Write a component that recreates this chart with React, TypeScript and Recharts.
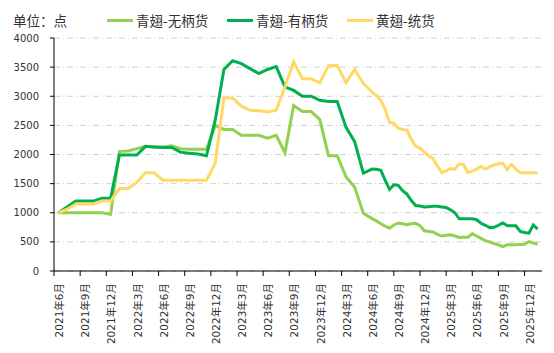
import { LineChart, Line, XAxis, YAxis, CartesianGrid } from 'recharts';

// x position in months since 2021-06 (monthly points at mid-month, then half-monthly)
const monthPos = [
  0.5, 1.5, 2.5, 3.5, 4.5, 5.5, 6.5, 7.5, 8.5, 9.5, 10.5, 11.5, 12.5, 13.5, 14.5, 15.5,
  16.5, 17.5, 18.5, 19.5, 20.5, 21.5, 22.5, 23.5, 24.5, 25.5, 26.5, 27.5, 28.5, 29.5,
  30.5, 31.5, 32.5, 33.5, 34.5, 35.5, 36.5,
  37, 37.5, 38, 38.5, 39, 39.5, 40, 40.5, 41, 41.5, 42, 42.5, 43, 43.5, 44, 44.5, 45,
  45.5, 46, 46.5, 47, 47.5, 48, 48.5, 49, 49.5, 50, 50.5, 51, 51.5, 52, 52.5, 53, 53.5,
  54, 54.5, 55, 55.5,
];

// 青翅-无柄货
const wingless = [
  1000, 1000, 1000, 1000, 1000, 1000, 975, 2050, 2060, 2100, 2140, 2130, 2130, 2150, 2100, 2090,
  2090, 2090, 2500, 2430, 2430, 2330, 2330, 2330, 2280, 2330, 2030, 2840, 2740, 2740,
  2600, 1980, 1980, 1620, 1440, 990, 900,
  860, 810, 770, 735, 790, 825, 810, 795, 810, 820, 780, 690, 680, 670, 630, 600, 615,
  620, 600, 575, 580, 580, 640, 600, 560, 520, 500, 470, 450, 420, 450, 450, 450, 455,
  460, 505, 480, 460,
];

// 青翅-有柄货
const withStem = [
  1000, 1100, 1200, 1200, 1200, 1250, 1250, 1990, 1990, 1990, 2140, 2130, 2120, 2120, 2040, 2020,
  2010, 1980, 2590, 3460, 3610, 3560, 3475, 3390, 3460, 3510, 3160, 3100, 3000, 3000,
  2930, 2910, 2910, 2470, 2220, 1680, 1750,
  1745, 1730, 1560, 1400, 1480, 1470, 1380, 1320, 1210, 1125, 1115, 1100, 1105, 1110, 1110, 1100, 1090,
  1050, 1000, 895, 895, 895, 895, 880, 820, 785, 745, 750, 785, 825, 780, 775, 775, 680,
  660, 650, 790, 720,
];

// 黄翅-统货
const yellowWing = [
  1000, 1060, 1150, 1150, 1150, 1200, 1200, 1415, 1415, 1520, 1685, 1685, 1560, 1560, 1560, 1560,
  1560, 1560, 1850, 2970, 2970, 2830, 2760, 2750, 2730, 2760, 3160, 3590, 3300, 3300,
  3230, 3530, 3530, 3230, 3460, 3220, 3070,
  3010, 2930, 2780, 2550, 2540, 2450, 2430, 2420, 2260, 2140, 2110, 2040, 1980, 1930, 1800, 1690, 1720,
  1760, 1750, 1840, 1825, 1690, 1715, 1750, 1795, 1750, 1790, 1820, 1840, 1850, 1740, 1830, 1750, 1685,
  1685, 1685, 1685, 1685,
];

const tickMonths = [0, 3, 6, 9, 12, 15, 18, 21, 24, 27, 30, 33, 36, 39, 42, 45, 48, 51, 54];
const tickLabels = [
  '2021年6月', '2021年9月', '2021年12月', '2022年3月', '2022年6月', '2022年9月', '2022年12月',
  '2023年3月', '2023年6月', '2023年9月', '2023年12月', '2024年3月', '2024年6月', '2024年9月',
  '2024年12月', '2025年3月', '2025年6月', '2025年9月', '2025年12月',
];
const yTicks = [0, 500, 1000, 1500, 2000, 2500, 3000, 3500, 4000];

const seriesNames = ['青翅-无柄货', '青翅-有柄货', '黄翅-统货'];
const colors = ['#92D050', '#00B050', '#FFD966'];

const data = monthPos.map((t, i) => ({
  t,
  a: wingless[i],
  b: withStem[i],
  c: yellowWing[i],
}));

const axisFont = '"DejaVu Sans", "Noto Sans CJK SC", sans-serif';
const cjkFont = '"Noto Sans CJK SC", "Noto Sans", sans-serif';

const XTick = (props: any) => {
  const { x, y, payload } = props;
  const label = tickLabels[tickMonths.indexOf(payload.value)];
  return (
    <text
      x={0}
      y={0}
      dy="0.35em"
      transform={`translate(${x + 5.5},${y}) rotate(-90)`}
      textAnchor="end"
      fontSize={10.5}
      fontFamily={axisFont}
      fill="#333"
    >
      {label}
    </text>
  );
};

const App = () => {
  return (
    <div style={{ position: 'absolute', left: 0, top: 0, width: 554, height: 353, background: '#fff' }}>
      <div
        style={{
          position: 'absolute', left: 13, top: 11, fontSize: 13.5, fontFamily: cjkFont,
          color: '#333', lineHeight: '18px', whiteSpace: 'nowrap',
        }}
      >
        单位：点
      </div>
      {seriesNames.map((name, i) => (
        <div
          key={name}
          style={{
            position: 'absolute', left: 107 + i * 120, top: 11, height: 18, display: 'flex',
            alignItems: 'center', fontSize: 13.5, fontFamily: cjkFont, color: '#333', whiteSpace: 'nowrap',
          }}
        >
          <span style={{ display: 'inline-block', width: 26, height: 3, background: colors[i], marginRight: 3 }} />
          {name}
        </div>
      ))}
      <LineChart width={554} height={353} data={data} margin={{ top: 38, right: 12, bottom: 0, left: 0 }}>
        <CartesianGrid vertical={false} stroke="#D0D0D0" strokeDasharray="6 3 1 3" />
        <XAxis
          dataKey="t"
          type="number"
          domain={[0, 56]}
          ticks={tickMonths}
          interval={0}
          height={82}
          tickSize={5}
          tickMargin={7}
          axisLine={{ stroke: '#000' }}
          tickLine={{ stroke: '#000' }}
          tick={<XTick />}
        />
        <YAxis
          type="number"
          domain={[0, 4000]}
          ticks={yTicks}
          interval={0}
          width={54}
          tickSize={4}
          tickMargin={11}
          axisLine={{ stroke: '#000' }}
          tickLine={{ stroke: '#000' }}
          tick={{ fontSize: 10, fill: '#333', fontFamily: axisFont }}
        />
        <Line type="linear" dataKey="a" name={seriesNames[0]} stroke={colors[0]} strokeWidth={3} dot={false} isAnimationActive={false} />
        <Line type="linear" dataKey="b" name={seriesNames[1]} stroke={colors[1]} strokeWidth={3} dot={false} isAnimationActive={false} />
        <Line type="linear" dataKey="c" name={seriesNames[2]} stroke={colors[2]} strokeWidth={3} dot={false} isAnimationActive={false} />
      </LineChart>
    </div>
  );
};

export default App;
